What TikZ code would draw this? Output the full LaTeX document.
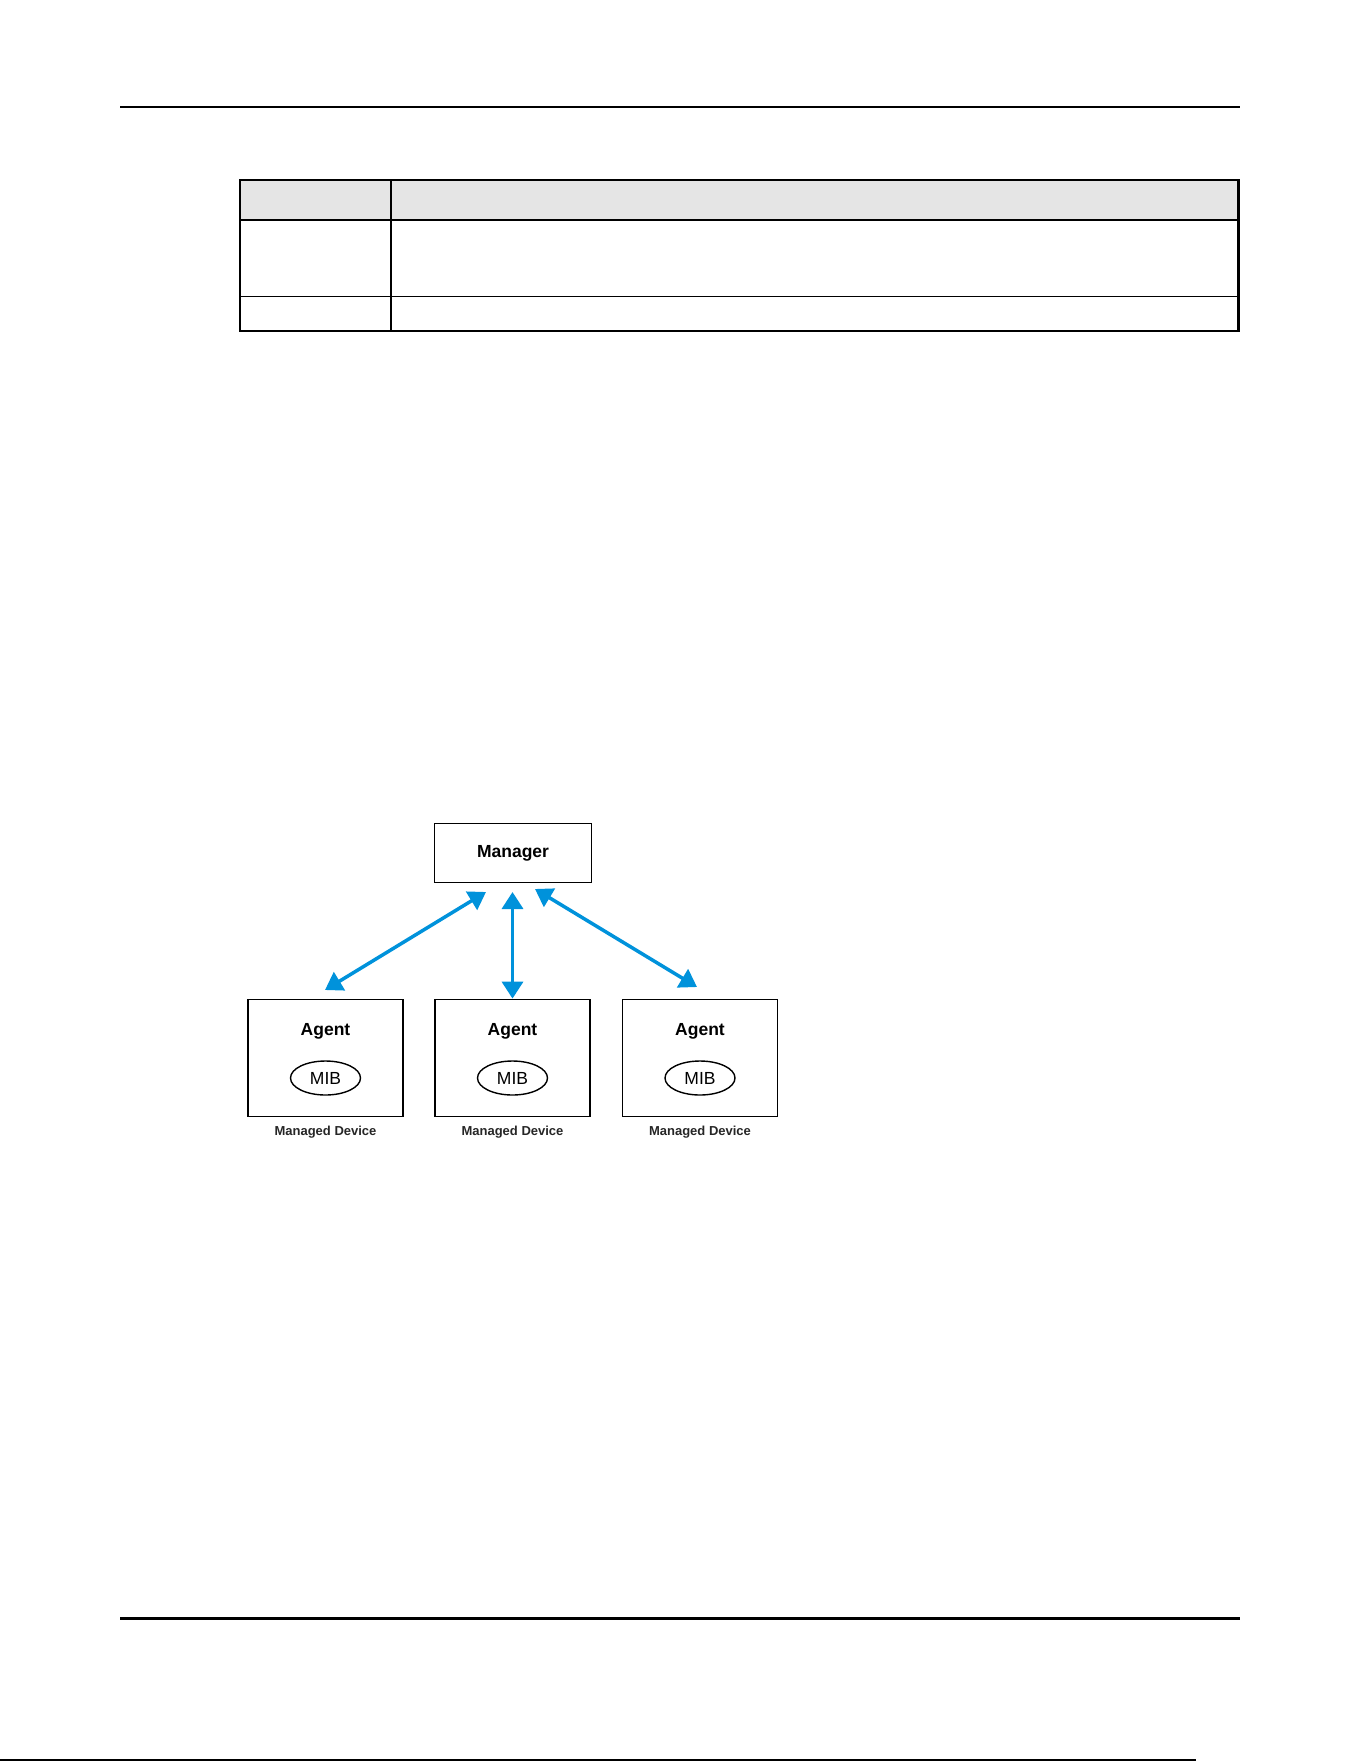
\documentclass[tikz,border=0pt]{standalone}
\usepackage{fontspec}
\setmainfont{Liberation Sans}
\usetikzlibrary{arrows.meta,shapes.geometric}
\definecolor{arrowblue}{RGB}{0,146,219}
\definecolor{hdrgray}{RGB}{229,229,229}
\begin{document}
\begin{tikzpicture}[x=1pt,y=-1pt,
  devbox/.style={draw=black,line width=1.8pt,minimum width=155pt,minimum height=117pt,inner sep=0pt},
  mgrbox/.style={draw=black,line width=1.8pt,minimum width=157pt,minimum height=59pt,inner sep=0pt},
  mib/.style={draw=black,ellipse,line width=1.4pt,minimum width=70pt,minimum height=34pt,inner sep=0pt,font=\fontsize{17.5}{20}\selectfont},
  agentlbl/.style={font=\fontsize{17.5}{20}\selectfont\bfseries},
  devlbl/.style={font=\fontsize{13}{15}\selectfont\bfseries,text=black!85},
  link/.style={draw=arrowblue,line width=3.5pt,{Triangle[length=17pt,width=21pt]}-{Triangle[length=17pt,width=21pt]}},
  rule/.style={line width=2pt}]
\useasboundingbox (0,0) rectangle (1361,1761);
% page rules
\draw[rule] (120,106.5) -- (1240,106.5);
\draw[line width=3pt] (120,1618) -- (1240,1618);
\draw[line width=1.5pt] (0,1760) -- (1196,1760);
% table
\fill[hdrgray] (240,180) rectangle (1238.5,220);
\draw[line width=1.3pt] (391,180) -- (391,331);
\draw[line width=1.4pt] (240,296.5) -- (1238.5,296.5);
\draw[line width=2.6pt] (240,220) -- (1238.5,220);
\draw[line width=2.2pt] (240,180) rectangle (1238.5,331);
% diagram
\node[mgrbox] (mgr) at (513,853) {\raisebox{-2pt}{\fontsize{17.5}{20}\selectfont\bfseries Manager}};
\node[devbox] (devL) at (325.5,1058) {};
\node[devbox] (devM) at (512.5,1058) {};
\node[devbox] (devR) at (700,1058) {};
\foreach \d in {L,M,R}{
  \node[agentlbl] (ag\d) at ([yshift=-32.5pt]dev\d.north) {Agent};
  \node[mib] (mib\d) at ([yshift=-20pt]dev\d.center) {MIB};
  \node[devlbl] (lbl\d) at ([yshift=-14.5pt]dev\d.south) {Managed Device};
}
\coordinate (tL) at (486,892);
\coordinate (bL) at (325,990);
\coordinate (tM) at (512.5,892);
\coordinate (tR) at (535,889);
\coordinate (bR) at (697,987);
\draw[link] (tL) -- (bL);
\draw[link] (tM) -- (devM.north);
\draw[link] (tR) -- (bR);
\end{tikzpicture}
\end{document}
